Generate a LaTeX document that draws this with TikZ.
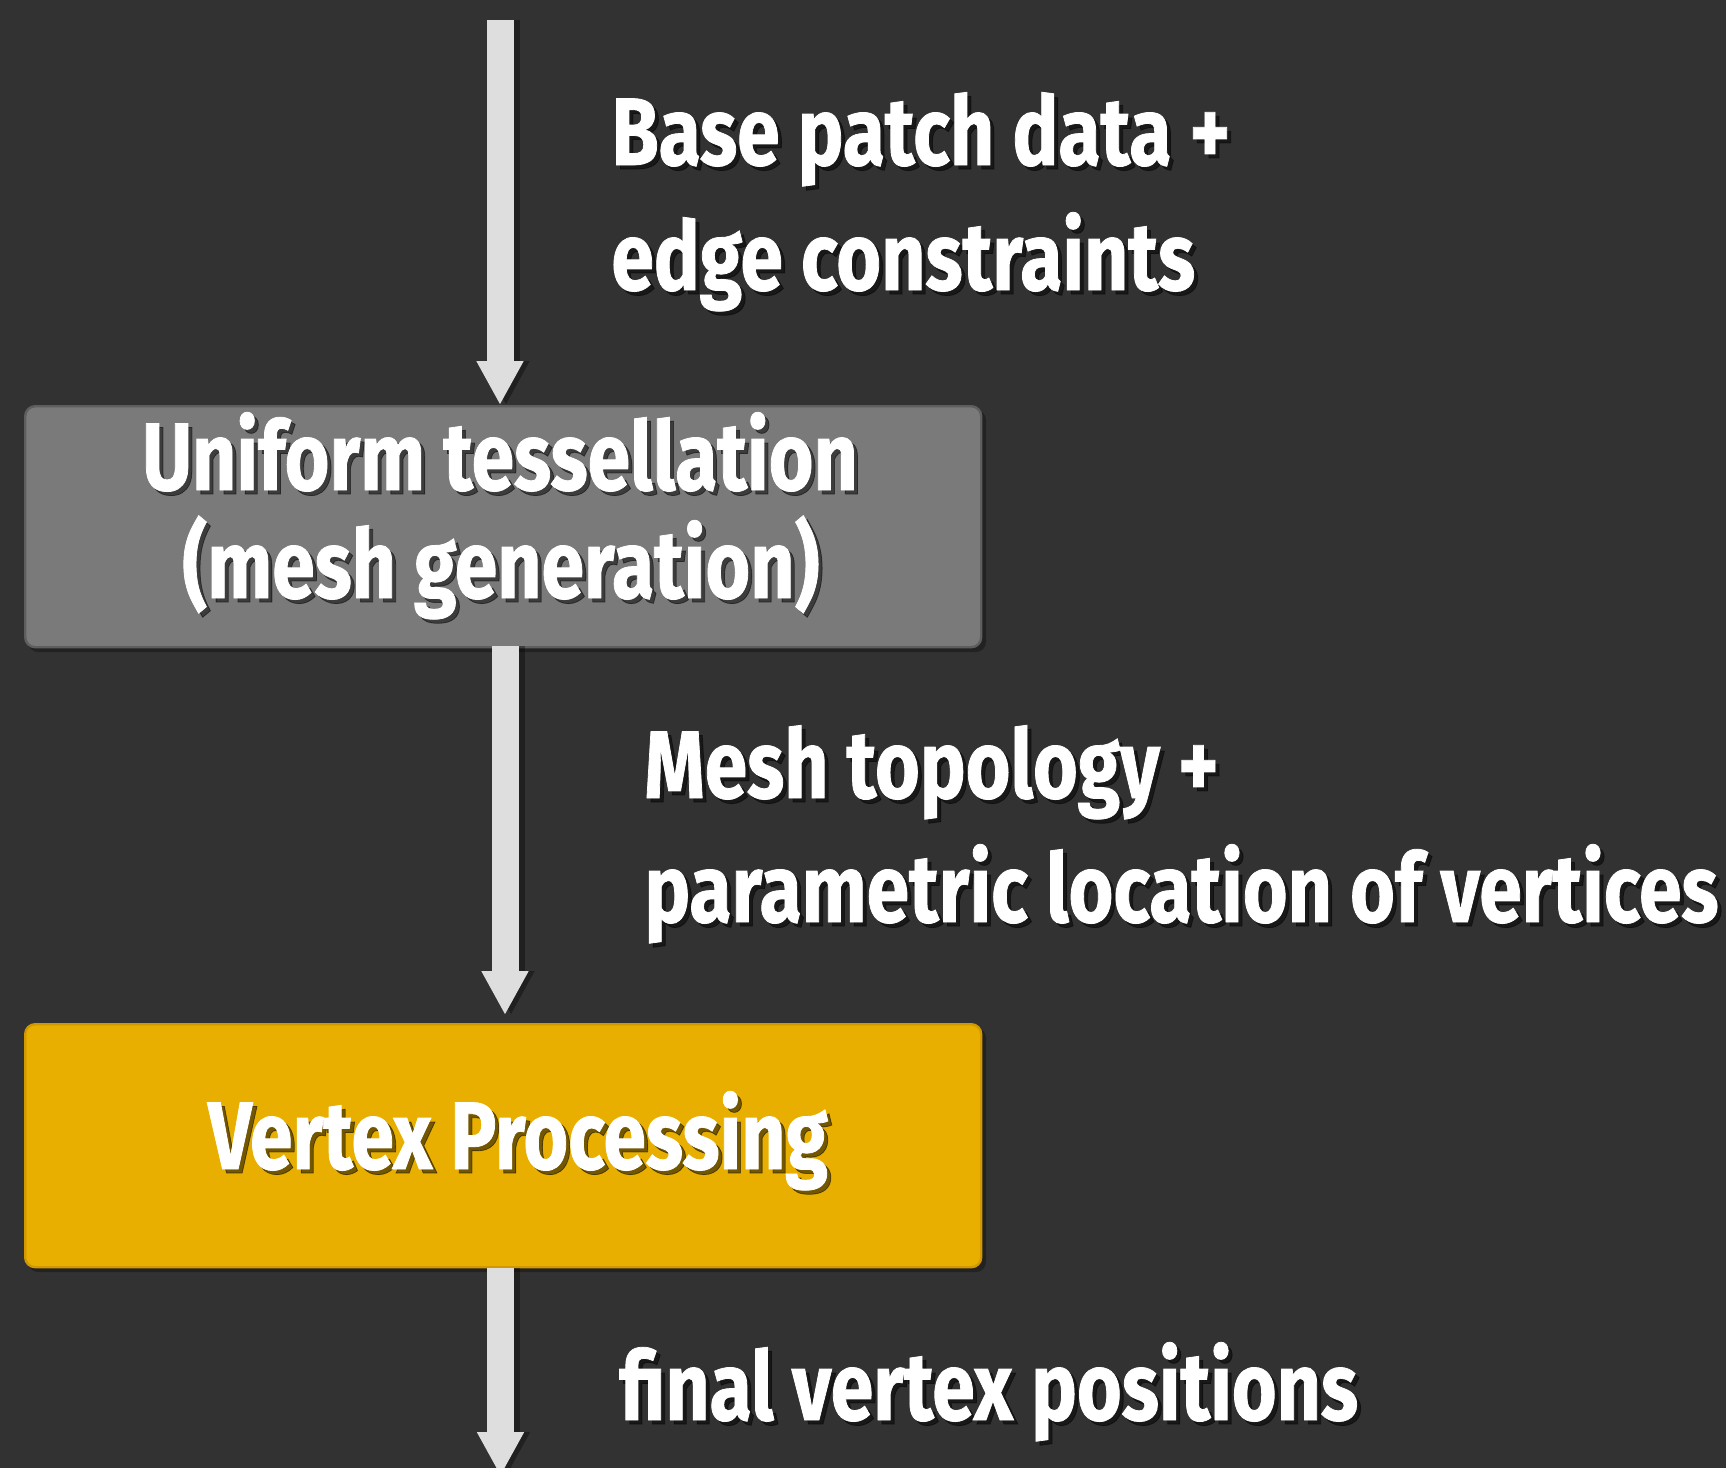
\documentclass[tikz,border=0pt]{standalone}
\usepackage{fontspec}
\newfontfamily\lblfont[FakeStretch=0.80,FakeBold=0.8]{Fira Sans}
\usetikzlibrary{arrows.meta}
\definecolor{bgdark}{HTML}{323232}
\definecolor{boxgray}{HTML}{7A7A7A}
\definecolor{boxgrayedge}{HTML}{5E5E5E}
\definecolor{boxyellow}{HTML}{E8AF00}
\definecolor{boxyellowedge}{HTML}{D29800}
\definecolor{flowgray}{HTML}{DEDEDE}
\tikzset{
  stage/.style={draw, line width=1.2pt, rounded corners=5pt},
  flow/.style={draw=flowgray, line width=13.5pt, line cap=butt,
    -{Triangle[width=22pt,length=22pt]}},
  flowshadow/.style={draw=black, opacity=0.35, line width=13.5pt, line cap=butt,
    -{Triangle[width=22pt,length=22pt]}},
  txt/.style={text=white, font=\lblfont\bfseries\fontsize{48}{50}\selectfont, inner sep=0pt},
  txtshadow/.style={txt, text=black, text opacity=0.5},
}
% text with a drop shadow
\newcommand\shadowtext[4]{%
  \node[txtshadow, anchor=#3, xshift=2pt, yshift=-2pt] at (#2) {#4};
  \node[txt, anchor=#3] (#1) at (#2) {#4};}
\begin{document}
\begin{tikzpicture}[x=0.5pt, y=-0.5pt]
  \fill[bgdark] (0,0) rectangle (1726,1468);
  \useasboundingbox (0,0) rectangle (1726,1468);
  \clip (0,0) rectangle (1726,1468);

  % stages
  \fill[black, opacity=0.3, rounded corners=5pt] (28,410) rectangle (986,652);
  \node[stage, draw=boxgrayedge, fill=boxgray, minimum width=478pt, minimum height=120.5pt,
        anchor=north west, inner sep=0pt] (tess) at (24,405) {};
  \fill[black, opacity=0.3, rounded corners=5pt] (28,1028) rectangle (986,1272);
  \node[stage, draw=boxyellowedge, fill=boxyellow, minimum width=478pt, minimum height=121.5pt,
        anchor=north west, inner sep=0pt] (vtx) at (24,1023) {};

  % connectors
  \coordinate (src) at (500,20);
  \coordinate (sink) at (500.5,1476);
  \coordinate (a2top) at (505,646);
  \coordinate (a2end) at (505,1015);
  \draw[flowshadow] ([xshift=3pt]src) -- ([xshift=3pt]tess.north -| src);
  \draw[flow] (src) -- (tess.north -| src);
  \draw[flowshadow] ([xshift=3pt]a2top) -- ([xshift=3pt]a2end);
  \draw[flow] (a2top) -- (a2end);
  \draw[flowshadow] ([xshift=3pt]vtx.south -| sink) -- ([xshift=3pt]sink);
  \draw[flow] (vtx.south -| sink) -- (sink);

  % labels
  \shadowtext{in1}{611,165}{base west}{Base patch data +}
  \shadowtext{in2}{611,290}{base west}{edge constraints}
  \shadowtext{t1}{500,490}{base}{Uniform tessellation}
  \shadowtext{t2}{501,598}{base}{(mesh generation)}
  \shadowtext{m1}{644,798}{base west}{Mesh topology +}
  \shadowtext{m2}{644,922}{base west}{parametric location of vertices}
  \shadowtext{v1}{518,1169}{base}{Vertex Processing}
  \shadowtext{out}{619,1420}{base west}{final vertex positions}
\end{tikzpicture}
\end{document}
